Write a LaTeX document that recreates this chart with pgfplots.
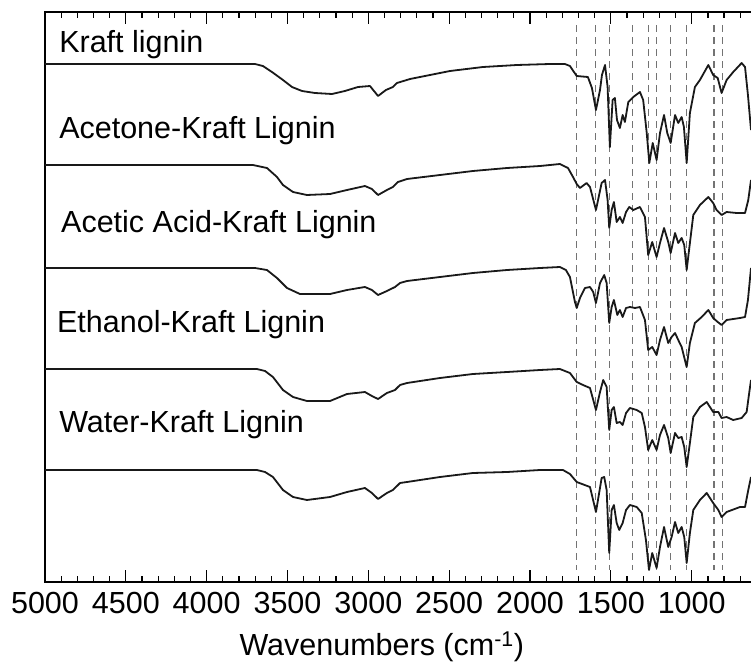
\documentclass[border=0pt]{standalone}
\usepackage{fontspec}
\setmainfont{Liberation Sans}
\usepackage{pgfplots}
\pgfplotsset{compat=1.18}
\begin{document}
\fontsize{30.5bp}{36bp}\selectfont
\begin{tikzpicture}
\useasboundingbox (-45bp,-82bp) rectangle (706bp,582bp);
\begin{axis}[
 at={(0,0)}, anchor=south west,
 scale only axis, width=712bp, height=570bp,
 x dir=reverse, xmin=596, xmax=5000,
 ymin=-582, ymax=-12,
 y filter/.expression={-y},
 axis line style={line width=1.6bp, black},
 xtick={1000,1500,2000,2500,3000,3500,4000,4500,5000},
 minor xtick={700,800,900,1100,1200,1300,1400,1600,1700,1800,1900,2100,2200,2300,2400,2600,2700,2800,2900,3100,3200,3300,3400,3600,3700,3800,3900,4100,4200,4300,4400,4600,4700,4800,4900},
 xticklabel pos=lower,
 ytick=\empty,
 every tick/.append style={line width=1.3bp, black},
 major tick length=12bp, minor tick length=6bp,
 /pgf/number format/assume math mode=true,
 /pgf/number format/1000 sep={},
 tick label style={font=\fontsize{30.5bp}{36bp}\selectfont},
 xlabel={Wavenumbers (cm\textsuperscript{-1})},
 xlabel style={at={(axis description cs:0.473,0)}, anchor=base, yshift=-73bp, font=\fontsize{30.5bp}{36bp}\selectfont},
 spec/.style={line width=1.8bp, color=black!90, line join=round},
 dl/.style={line width=1.1bp, color=black!55, dash pattern=on 7bp off 5bp},
]
\addplot[dl] coordinates {(1710,25) (1710,570)};
\addplot[dl] coordinates {(1595,25) (1595,570)};
\addplot[dl] coordinates {(1508,25) (1508,570)};
\addplot[dl] coordinates {(1368,25) (1368,570)};
\addplot[dl] coordinates {(1269,25) (1269,570)};
\addplot[dl] coordinates {(1217,25) (1217,570)};
\addplot[dl] coordinates {(1130,25) (1130,570)};
\addplot[dl] coordinates {(1031,25) (1031,570)};
\addplot[dl] coordinates {(862,25) (862,570)};
\addplot[dl] coordinates {(811,25) (811,570)};
% Kraft lignin
\addplot[spec] coordinates {(5000,64) (3701,64) (3652,66) (3596,72) (3528,80) (3472,87) (3410,91) (3330,93) (3225,94) (3145,91) (3064,87) (2990,86) (2940,96) (2891,90) (2848,87) (2823,83) (2742,79) (2619,75) (2495,71) (2291,67) (2081,65) (1877,64) (1784,64) (1753,66) (1728,72) (1711,76) (1642,77) (1617,88) (1592,110) (1567,90) (1555,75) (1536,65) (1520,87) (1506,147) (1489,100) (1475,98) (1462,120) (1444,128) (1427,115) (1413,122) (1392,102) (1361,97) (1320,92) (1300,100) (1278,133) (1262,163) (1241,143) (1217,160) (1196,133) (1171,115) (1151,133) (1130,143) (1103,115) (1083,123) (1062,117) (1048,127) (1031,163) (1011,113) (980,87) (949,80) (897,65) (867,75) (839,78) (815,93) (784,80) (743,72) (691,63) (670,67) (652,95) (633,130)};
% Acetone
\addplot[spec] coordinates {(5000,165) (3714,165) (3627,168) (3565,177) (3528,185) (3466,192) (3380,195) (3237,194) (3132,190) (3021,186) (2978,189) (2940,195) (2885,190) (2848,187) (2817,182) (2761,179) (2557,175) (2353,171) (2142,168) (1938,166) (1815,164) (1765,168) (1734,177) (1711,184) (1691,188) (1650,183) (1629,187) (1592,210) (1557,183) (1536,180) (1520,200) (1510,228) (1495,210) (1481,202) (1464,222) (1444,217) (1427,223) (1406,212) (1386,207) (1361,210) (1320,207) (1289,217) (1269,255) (1244,242) (1217,257) (1196,243) (1171,228) (1145,242) (1130,253) (1103,233) (1083,243) (1062,238) (1046,245) (1031,270) (1011,243) (990,215) (949,205) (897,197) (867,203) (846,210) (815,215) (784,212) (722,213) (670,213) (650,200) (633,180)};
% Acetic acid
\addplot[spec] coordinates {(5000,268) (3701,268) (3627,270) (3565,278) (3503,288) (3423,294) (3237,294) (3132,290) (3021,287) (2978,290) (2940,295) (2885,291) (2835,287) (2804,283) (2761,281) (2557,277) (2353,273) (2142,270) (1938,268) (1815,267) (1778,270) (1753,277) (1722,302) (1711,308) (1691,298) (1660,288) (1629,287) (1609,292) (1592,303) (1567,283) (1541,275) (1526,283) (1510,323) (1495,307) (1481,300) (1460,315) (1444,310) (1427,317) (1406,308) (1382,307) (1351,308) (1320,307) (1289,320) (1269,350) (1244,347) (1217,355) (1196,340) (1171,327) (1145,343) (1124,337) (1103,333) (1083,340) (1062,347) (1031,367) (1011,343) (980,323) (938,317) (897,310) (867,318) (839,322) (815,325) (784,320) (701,318) (670,317) (652,300) (633,268)};
% Ethanol
\addplot[spec] coordinates {(5000,369) (3689,369) (3639,371) (3590,377) (3528,390) (3466,397) (3380,401) (3237,401) (3132,394) (3021,392) (2978,396) (2940,399) (2885,393) (2835,390) (2804,385) (2761,383) (2557,378) (2353,374) (2142,372) (1938,370) (1815,369) (1753,373) (1711,382) (1672,385) (1629,388) (1592,410) (1567,392) (1547,380) (1526,387) (1510,430) (1495,410) (1481,407) (1464,423) (1444,422) (1427,425) (1406,413) (1382,408) (1340,410) (1309,413) (1289,427) (1269,450) (1244,440) (1217,450) (1196,435) (1171,425) (1145,438) (1130,453) (1103,433) (1083,438) (1062,437) (1046,447) (1031,467) (1011,443) (990,417) (949,407) (907,402) (867,412) (835,412) (815,418) (784,417) (743,420) (691,418) (660,412) (646,395) (633,380)};
% Water
\addplot[spec] coordinates {(5000,470) (3689,470) (3639,472) (3590,477) (3528,490) (3466,497) (3380,500) (3237,497) (3132,492) (3021,488) (2978,493) (2940,499) (2885,493) (2848,490) (2804,483) (2761,482) (2557,477) (2353,473) (2142,472) (1938,470) (1796,470) (1753,474) (1711,482) (1629,487) (1592,512) (1557,478) (1541,477) (1526,490) (1510,553) (1495,510) (1481,505) (1464,523) (1448,530) (1427,523) (1406,510) (1382,505) (1340,507) (1309,513) (1283,540) (1264,570) (1244,553) (1217,568) (1196,547) (1171,527) (1145,547) (1124,537) (1103,522) (1083,533) (1062,527) (1046,537) (1031,563) (1011,533) (990,510) (949,500) (907,493) (867,503) (835,510) (815,517) (784,512) (701,507) (670,507) (650,490) (633,477)};
\node[anchor=base west, inner sep=0pt] at (axis cs:4913,-52) {Kraft lignin};
\node[anchor=base west, inner sep=0pt] at (axis cs:4913,-138) {Acetone-Kraft Lignin};
\node[anchor=base west, inner sep=0pt] at (axis cs:4901,-232) {Acetic Acid-Kraft Lignin};
\node[anchor=base west, inner sep=0pt] at (axis cs:4926,-332) {Ethanol-Kraft Lignin};
\node[anchor=base west, inner sep=0pt] at (axis cs:4913,-432) {Water-Kraft Lignin};
\end{axis}
\end{tikzpicture}
\end{document}
